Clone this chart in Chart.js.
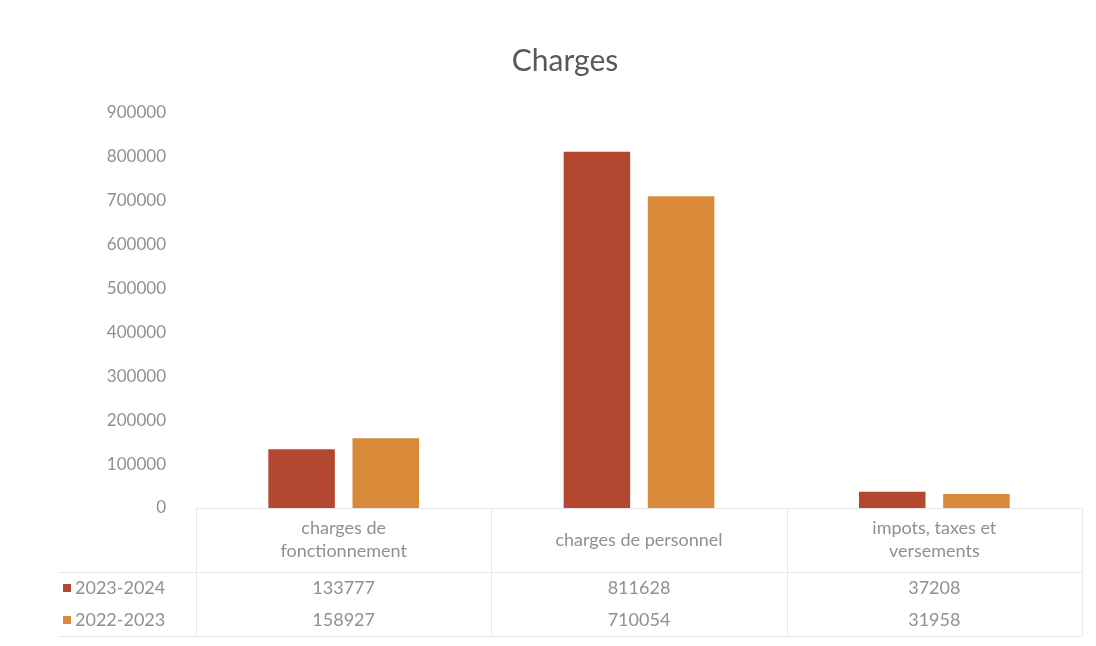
<!DOCTYPE html>
<html>
<head>
<meta charset="utf-8">
<title>Charges</title>
<script src="https://cdn.jsdelivr.net/npm/chart.js@4"></script>
<style>
  html, body { margin: 0; padding: 0; background: #fff; }
  #wrap { width: 1096px; height: 646px; }
</style>
</head>
<body>
<div id="wrap"><canvas id="chargesChart" width="1096" height="646"></canvas></div>
<script>
var categories = [["charges de", "fonctionnement"], ["charges de personnel"], ["impots, taxes et", "versements"]];
var seriesNames = ["2023-2024", "2022-2023"];
var values2324 = [133777, 811628, 37208];
var values2223 = [158927, 710054, 31958];
var yTicks = [0, 100000, 200000, 300000, 400000, 500000, 600000, 700000, 800000, 900000];

var colRed = '#b4472f';
var colOrange = '#d98a38';
var txtGrey = '#909090';
var lineGrey = '#e8e8e8';
var fontFam = 'Lato, "DejaVu Sans", sans-serif';

// data table drawn under the plot, columns follow the x scale
var dataTable = {
    id: 'dataTable',
    afterDraw: function (chart) {
        var ctx = chart.ctx;
        var xs = chart.scales.x;
        var area = chart.chartArea;
        var n = categories.length;
        var colW = (area.right - area.left) / n;
        var top = area.bottom;
        var headH = 64, rowH = 32;
        var rows = [values2324, values2223];
        var colors = [colRed, colOrange];
        var legendLeft = 58;

        ctx.save();
        ctx.strokeStyle = lineGrey;
        ctx.lineWidth = 1;
        ctx.beginPath();
        // horizontal lines
        ctx.moveTo(area.left, top + 0.5);
        ctx.lineTo(area.right, top + 0.5);
        ctx.moveTo(legendLeft, top + headH + 0.5);
        ctx.lineTo(area.right, top + headH + 0.5);
        ctx.moveTo(legendLeft, top + headH + rowH * 2 + 0.5);
        ctx.lineTo(area.right, top + headH + rowH * 2 + 0.5);
        // vertical lines
        for (var c = 0; c <= n; c++) {
            var lx = Math.round(area.left + c * colW) + 0.5;
            ctx.moveTo(lx, top);
            ctx.lineTo(lx, top + headH + rowH * 2);
        }
        ctx.stroke();

        ctx.fillStyle = txtGrey;
        ctx.font = '18px ' + fontFam;
        ctx.textAlign = 'center';
        ctx.textBaseline = 'middle';
        for (var i = 0; i < n; i++) {
            var cx = xs.getPixelForValue(i);
            var lines = categories[i];
            var lh = 23;
            var y0 = top + headH / 2 - (lines.length - 1) * lh / 2;
            for (var k = 0; k < lines.length; k++) {
                ctx.fillText(lines[k], cx, y0 + k * lh);
            }
            for (var r = 0; r < rows.length; r++) {
                ctx.fillText(String(rows[r][i]), cx, top + headH + rowH * r + rowH / 2);
            }
        }
        // series keys
        ctx.textAlign = 'left';
        for (var r = 0; r < rows.length; r++) {
            var ry = top + headH + rowH * r + rowH / 2;
            ctx.fillStyle = colors[r];
            ctx.fillRect(63, ry - 4, 8, 8);
            ctx.fillStyle = txtGrey;
            ctx.fillText(seriesNames[r], 75, ry);
        }
        ctx.restore();
    }
};

var chartdata = {
    labels: categories,
    datasets: [
        {
            label: seriesNames[0],
            backgroundColor: colRed,
            data: values2324,
            categoryPercentage: 0.57,
            barPercentage: 0.79
        },
        {
            label: seriesNames[1],
            backgroundColor: colOrange,
            data: values2223,
            categoryPercentage: 0.57,
            barPercentage: 0.79
        }
    ]
};

var ctx = document.getElementById('chargesChart');
var barGraph = new Chart(ctx, {
    type: 'bar',
    data: chartdata,
    plugins: [dataTable],
    options: {
        responsive: false,
        animation: false,
        layout: { padding: { left: 48, right: 14, top: 0, bottom: 138 } },
        plugins: {
            legend: { display: false },
            tooltip: { enabled: false },
            title: {
                display: true,
                text: 'Charges',
                color: '#595959',
                font: { family: fontFam, size: 30, weight: 'normal' },
                padding: { top: 43, bottom: 34 }
            }
        },
        scales: {
            x: {
                display: false
            },
            y: {
                min: 0,
                max: 900000,
                afterFit: function (scale) { scale.width = 148; },
                afterBuildTicks: function (scale) {
                    scale.ticks = yTicks.map(function (v) { return { value: v }; });
                },
                grid: { display: false },
                border: { display: false },
                ticks: {
                    color: txtGrey,
                    padding: 22,
                    font: { family: fontFam, size: 17 },
                    callback: function (v) { return String(v); }
                }
            }
        }
    }
});
</script>
</body>
</html>
